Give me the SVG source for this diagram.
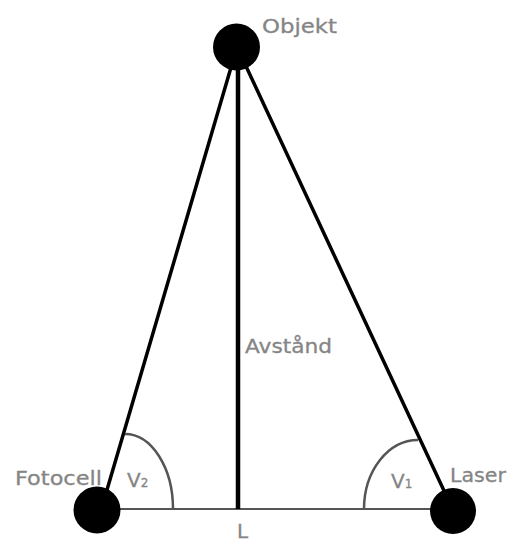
<svg xmlns="http://www.w3.org/2000/svg" width="512" height="543" viewBox="0 0 512 543">
<style>
.lbl{font-family:"DejaVu Sans","Liberation Sans",sans-serif;font-size:20px;fill:#858585;stroke:#858585;stroke-width:0.3;}
.sub{font-family:"DejaVu Sans","Liberation Sans",sans-serif;font-size:12px;fill:#858585;}
.node{fill:#000;}
.side{stroke:#000;stroke-width:3.5;fill:none;stroke-linecap:round;}
.arc{stroke:#555;stroke-width:2.5;fill:none;}
</style>
<rect width="512" height="543" fill="#fff"/>
<g id="connectors">
<line x1="97" y1="509" x2="453" y2="509" stroke="#555" stroke-width="2"/>
<line class="side" x1="237" y1="47" x2="104" y2="500"/>
<line class="side" x1="237" y1="47" x2="453" y2="510"/>
<line x1="238" y1="47" x2="238" y2="509" stroke="#000" stroke-width="4.5"/>
<path class="arc" d="M125,434 A48,75 0 0 1 173,509"/>
<path class="arc" d="M364,509 A54,69 0 0 1 418,440"/>
</g>
<g id="objekt">
<circle class="node" cx="236.5" cy="47" r="23.5"/>
<text class="lbl" x="262" y="33" textLength="75" lengthAdjust="spacingAndGlyphs">Objekt</text>
</g>
<g id="fotocell">
<circle class="node" cx="97" cy="510" r="23.5"/>
<text class="lbl" x="15" y="485" textLength="87" lengthAdjust="spacingAndGlyphs">Fotocell</text>
</g>
<g id="laser">
<circle class="node" cx="453" cy="511" r="23"/>
<text class="lbl" x="450" y="482" textLength="56" lengthAdjust="spacingAndGlyphs">Laser</text>
</g>
<g id="labels">
<text class="lbl" x="245" y="353" textLength="87" lengthAdjust="spacingAndGlyphs">Avstånd</text>
<text class="lbl" x="237" y="538">L</text>
<text class="lbl" x="127" y="487">V<tspan class="sub">2</tspan></text>
<text class="lbl" x="391" y="488">V<tspan class="sub">1</tspan></text>
</g>
</svg>
